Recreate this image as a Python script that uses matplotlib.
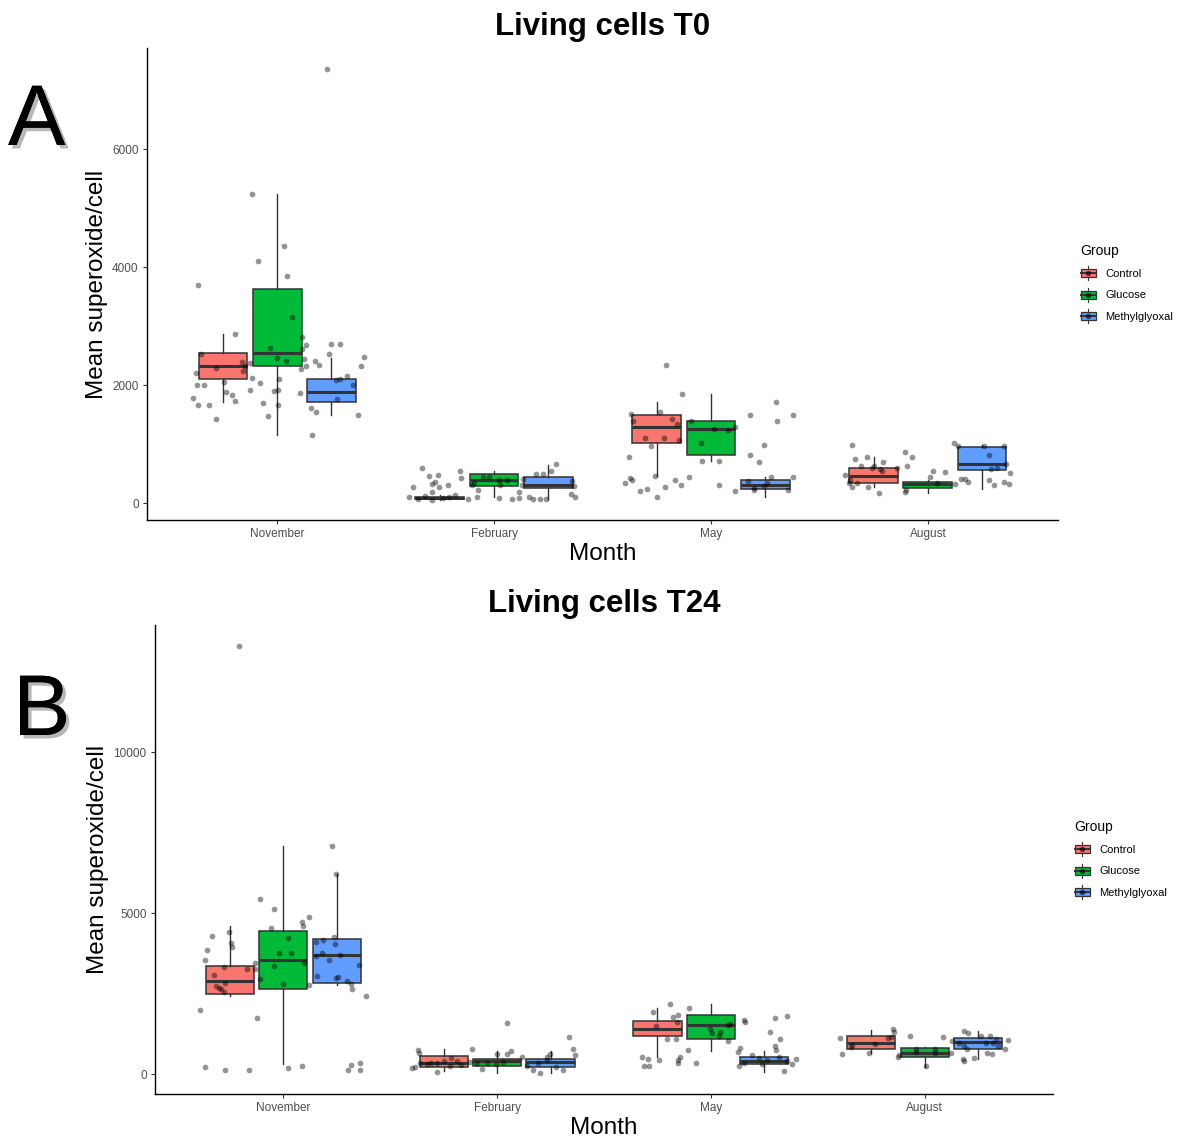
import matplotlib
matplotlib.use("Agg")
import matplotlib.pyplot as plt
import matplotlib.patheffects as pe
from matplotlib.legend_handler import HandlerBase
from matplotlib.patches import Rectangle, Patch
from matplotlib.lines import Line2D

plt.rcParams['font.family'] = ['Liberation Sans', 'DejaVu Sans']

# ---------------- data ----------------
months = ["November", "February", "May", "August"]
groups = ["Control", "Glucose", "Methylglyoxal"]
group_colors = ["#F8766D", "#00BA38", "#619CFF"]

# box statistics per month (rows) and group (cols): [whislo, q1, med, q3, whishi]
t0_boxes = [
    [[1707, 2097, 2322, 2537, 2865], [1153, 2327, 2537, 3633, 5232], [1492, 1717, 1881, 2107, 2452]],
    [[50, 70, 88, 105, 140], [97, 293, 385, 486, 542], [62, 260, 311, 446, 644]],
    [[458, 1012, 1288, 1486, 1707], [706, 819, 1260, 1395, 1842], [97, 232, 311, 390, 446]],
    [[277, 344, 458, 588, 780], [164, 260, 322, 361, 390], [232, 554, 656, 949, 978]],
]
t24_boxes = [
    [[2432, 2475, 2898, 3354, 4597], [301, 2631, 3551, 4451, 7082], [2755, 2826, 3707, 4183, 6202]],
    [[103, 228, 352, 559, 777], [41, 259, 404, 466, 714], [21, 207, 383, 466, 714]],
    [[538, 1180, 1388, 1636, 2040], [725, 1077, 1532, 1832, 2174], [72, 300, 414, 528, 725]],
    [[652, 766, 953, 1170, 1366], [228, 538, 662, 818, 849], [456, 766, 994, 1128, 1336]],
]

# jittered observations: horizontal jitter (category units) and value
t0_nov_jit = [0.23, -0.117, -0.089, 0.031, 0.046, -0.367, 0.069, -0.192, -0.35, -0.032, 0.0, 0.04, 0.114, 0.114,
              0.134, 0.246, 0.292, 0.24, 0.401, 0.386, 0.174, 0.192, 0.123, 0.135, 0.112, -0.163, -0.157, -0.28,
              -0.146, -0.124, -0.373, -0.37, -0.335, -0.243, -0.117, -0.08, 0.009, -0.126, -0.015, 0.006, 0.106,
              -0.238, -0.206, -0.195, -0.387, -0.367, -0.313, -0.063, 0.006, 0.155, 0.18, -0.282, -0.04, 0.372,
              0.163, 0.272, 0.292, 0.323, 0.35, 0.275]
t0_nov_val = [7351, 5238, 4097, 4351, 3853, 3695, 3148, 2870, 2531, 2627, 2458, 2412, 2819, 2615,
              2678, 2690, 2700, 2531, 2470, 2327, 2407, 2334, 2446, 2322, 2277, 2395, 2243, 2283,
              2322, 2368, 2198, 2005, 2005, 2056, 2124, 2029, 2102, 1921, 1893, 1921, 1859,
              1881, 1825, 1734, 1775, 1666, 1656, 1700, 1666, 1615, 1542, 1424, 1475, 1486,
              1153, 2090, 2107, 2153, 2005, 1768]
t0_feb_jit = [-0.332, -0.301, -0.258, -0.273, -0.284, -0.255, -0.212, -0.375, -0.286, -0.155, -0.152, -0.39,
              -0.349, -0.318, -0.284, -0.236, -0.206, -0.18, -0.118, -0.1, -0.092, -0.075, -0.08, -0.052, -0.022,
              0.021, 0.06, 0.028, 0.023, 0.083, 0.117, 0.115, 0.132, 0.13, 0.163, 0.181, 0.21, 0.238, 0.195,
              0.224, 0.264, 0.284, 0.358, 0.369, 0.353, 0.372]
t0_feb_val = [599, 452, 480, 361, 317, 277, 305, 271, 181, 548, 418, 102,
              68, 113, 51, 85, 102, 130, 73, 305, 334, 220, 102, 446, 446,
              385, 390, 305, 80, 73, 181, 85, 412, 305, 97, 73, 73, 73, 486,
              486, 548, 656, 378, 293, 153, 97]
t0_may_jit = [-0.206, -0.135, -0.235, -0.369, -0.358, -0.18, -0.157, -0.306, -0.217, -0.147, -0.275, -0.378,
              -0.091, 0.014, 0.08, 0.112, -0.046, -0.04, 0.037, -0.259, -0.373, -0.363, -0.395, -0.166, -0.1,
              -0.137, -0.213, -0.329, -0.294, -0.248, 0.037, 0.112, 0.181, 0.298, 0.304, 0.378, 0.245, 0.181,
              0.221, 0.276, 0.378, 0.171, 0.198, 0.198, 0.245, 0.257, 0.355]
t0_may_val = [2344, 1848, 1542, 1503, 1395, 1424, 1344, 1097, 1097, 1068, 966, 775,
              1385, 1254, 1237, 1288, 1012, 707, 707, 458, 429, 390, 344, 395, 436,
              300, 266, 203, 237, 102, 300, 203, 1486, 1707, 1390, 1486, 988, 819,
              695, 446, 446, 378, 254, 215, 293, 334, 220]
t0_aug_jit = [-0.35, -0.335, -0.281, -0.306, -0.247, -0.209, -0.219, -0.212, -0.256, -0.14, -0.106, -0.071,
              -0.094, -0.384, -0.358, -0.365, -0.352, -0.326, -0.278, -0.226, -0.1, -0.106, 0.024, 0.077, 0.012,
              0.04, 0.12, 0.137, 0.258, 0.353, 0.281, 0.362, 0.292, 0.317, 0.381, 0.151, 0.172, 0.186, 0.281,
              0.304, 0.353, 0.373, 0.124]
t0_aug_val = [983, 746, 785, 627, 627, 690, 571, 542, 599, 599, 870, 775,
              627, 469, 390, 344, 277, 334, 266, 164, 220, 181, 548, 525, 441,
              334, 1012, 961, 966, 966, 814, 656, 576, 593, 514, 412, 402, 356, 390,
              300, 361, 322, 317]

t24_nov_jit = [-0.209, 0.229, 0.246, -0.109, -0.042, 0.12, 0.086, 0.092, -0.059, -0.252, -0.333, 0.022, 0.238,
               0.188, 0.153, 0.244, -0.244, -0.238, -0.358, -0.019, 0.034, 0.181, 0.154, 0.266, 0.215, -0.368,
               -0.131, 0.095, 0.352, -0.277, -0.171, -0.131, -0.043, -0.324, 0.16, -0.111, -0.271, 0.246, 0.258,
               0.296, 0.315, 0.321, 0.0, 0.118, -0.313, -0.302, -0.293, -0.279, 0.386, -0.388, -0.123, -0.364,
               -0.271, -0.162, 0.022, 0.086, 0.316, 0.357, 0.305, 0.357]
t24_nov_val = [13294, 7091, 6202, 5436, 5125, 4876, 4711, 4597, 4545, 4420, 4286, 4224, 4245,
               4162, 4090, 4038, 4059, 3945, 3861, 3749, 3768, 3768, 3665, 3686, 3550, 3550,
               3457, 3457, 3395, 3323, 3252, 3261, 3345, 3084, 3053, 2941, 2826, 2972, 3013,
               2898, 2805, 2631, 2805, 2764, 2743, 2671, 2650, 2547, 2423, 1997, 1730, 208,
               124, 115, 177, 248, 289, 332, 115, 115]
t24_feb_jit = [0.045, -0.368, -0.363, -0.118, 0.0, 0.045, 0.064, 0.115, 0.335, 0.354, 0.366, 0.248, 0.232,
               -0.214, -0.249, -0.188, -0.36, -0.329, -0.308, -0.279, -0.22, -0.397, -0.383, -0.28, -0.092,
               -0.048, -0.005, 0.026, -0.07, -0.17, 0.139, 0.17, 0.199, 0.193, 0.232, 0.274, 0.307, -0.126]
t24_feb_val = [1594, 745, 662, 786, 621, 631, 724, 538, 1159, 777, 580, 611, 538,
               507, 404, 404, 332, 311, 352, 332, 248, 197, 228, 52, 332,
               352, 311, 373, 166, 280, 248, 124, 21, 332, 435, 208, 124, 383]
t24_may_jit = [-0.19, -0.104, -0.272, -0.176, -0.153, -0.257, -0.16, -0.206, -0.162, -0.109, -0.322, -0.293,
               -0.244, -0.313, -0.288, -0.153, -0.145, -0.153, -0.069, -0.005, 0.005, 0.042, 0.037, 0.081, 0.09,
               0.079, 0.154, 0.16, 0.126, 0.136, 0.131, 0.157, 0.19, 0.223, 0.241, 0.299, 0.354, 0.276, 0.322,
               0.299, 0.304, 0.317, 0.354, 0.396, 0.38, 0.343, 0.263]
t24_may_val = [2184, 2060, 1935, 1770, 1822, 1500, 1605, 1096, 1096, 736, 528, 466,
               425, 248, 248, 435, 538, 352, 332, 1388, 1264, 1305, 1180, 1532, 1553,
               1034, 1677, 1625, 693, 797, 248, 352, 590, 487, 311, 1739, 1791, 1305, 1077,
               870, 745, 538, 414, 476, 311, 83, 435]
t24_aug_jit = [-0.397, -0.386, -0.346, -0.338, -0.262, -0.234, -0.171, -0.16, -0.15, -0.142, -0.125, -0.12,
               -0.07, -0.042, -0.042, 0.006, 0.047, 0.047, 0.087, 0.123, 0.126, 0.185, 0.202, 0.162, 0.184,
               0.199, 0.179, 0.182, 0.23, 0.265, 0.307, 0.288, 0.319, 0.291, 0.314, 0.343, 0.388, 0.377, 0.332]
t24_aug_val = [1128, 621, 849, 890, 642, 922, 1109, 1159, 1388, 1305, 518, 580,
               1180, 767, 683, 258, 767, 662, 1159, 642, 1034, 1345, 1264, 953, 870,
               787, 476, 394, 508, 1180, 1180, 973, 953, 662, 631, 870, 1056, 787, 1087]

t0_yticks = [0, 2000, 4000, 6000]
t24_yticks = [0, 5000, 10000]

panels = [
    dict(title="Living cells T0", letter="A", boxes=t0_boxes,
         jit=[t0_nov_jit, t0_feb_jit, t0_may_jit, t0_aug_jit],
         val=[t0_nov_val, t0_feb_val, t0_may_val, t0_aug_val],
         yticks=t0_yticks, ylim=(-288, 7712),
         rect=[147 / 1181, 1 - 520 / 1142, 911 / 1181, 472 / 1142],
         legend_xy=(1070 / 1181, 1 - 234 / 1142), letter_xy=(8 / 1181, 1 - 145 / 1142)),
    dict(title="Living cells T24", letter="B", boxes=t24_boxes,
         jit=[t24_nov_jit, t24_feb_jit, t24_may_jit, t24_aug_jit],
         val=[t24_nov_val, t24_feb_val, t24_may_val, t24_aug_val],
         yticks=t24_yticks, ylim=(-621, 13946),
         rect=[155 / 1181, 1 - 1094 / 1142, 898 / 1181, 469 / 1142],
         legend_xy=(1064 / 1181, 1 - 810 / 1142), letter_xy=(13 / 1181, 1 - 735 / 1142)),
]


class HandlerBoxKey(HandlerBase):
    def create_artists(self, legend, orig_handle, xdescent, ydescent, width, height, fontsize, trans):
        fc = orig_handle.get_facecolor()
        cx = -xdescent + width / 2
        bw = width * 0.9
        bh = height * 0.62
        y0 = -ydescent + (height - bh) / 2
        rect = Rectangle((cx - bw / 2, y0), bw, bh, facecolor=fc, edgecolor="#333333", lw=0.9, transform=trans)
        vline = Line2D([cx, cx], [-ydescent - height * 0.05, -ydescent + height * 1.05], color="#333333",
                       lw=0.8, transform=trans)
        hline = Line2D([cx - bw / 2, cx + bw / 2], [y0 + bh / 2, y0 + bh / 2], color="#333333", lw=1.4,
                       transform=trans)
        dot = Line2D([cx], [y0 + bh / 2], marker="o", ms=3, color="black", alpha=0.5, ls="none", transform=trans)
        return [vline, rect, hline, dot]


fig = plt.figure(figsize=(11.81, 11.42), dpi=100)

for p in panels:
    ax = fig.add_axes(p["rect"])
    for mi in range(len(months)):
        for gi in range(len(groups)):
            lo, q1, med, q3, hi = p["boxes"][mi][gi]
            st = dict(whislo=lo, q1=q1, med=med, q3=q3, whishi=hi, fliers=[])
            pos = (mi + 1) + (gi - 1) * 0.25
            ax.bxp([st], positions=[pos], widths=0.225, patch_artist=True, showcaps=False, showfliers=False,
                   boxprops=dict(facecolor=group_colors[gi], edgecolor="#333333", linewidth=1.1),
                   whiskerprops=dict(color="#333333", linewidth=1.0),
                   medianprops=dict(color="#333333", linewidth=2.2), zorder=2)
        xs = [(mi + 1) + j for j in p["jit"][mi]]
        ax.scatter(xs, p["val"][mi], s=17, color="black", alpha=0.42, linewidths=0, zorder=3)

    ax.set_xlim(0.4, 4.6)
    ax.set_ylim(*p["ylim"])
    ax.set_xticks(range(1, len(months) + 1))
    ax.set_xticklabels(months)
    ax.set_yticks(p["yticks"])
    ax.set_yticklabels([str(v) for v in p["yticks"]])
    for s in ["top", "right"]:
        ax.spines[s].set_visible(False)
    for s in ["left", "bottom"]:
        ax.spines[s].set_linewidth(1.0)
        ax.spines[s].set_color("black")
    ax.tick_params(axis="both", length=3, width=0.8, color="#333333", labelsize=8.5, labelcolor="#4D4D4D", pad=3)
    ax.set_xlabel("Month", fontsize=17.5, labelpad=2)
    ax.set_ylabel("Mean superoxide/cell", fontsize=17.5, labelpad=3)
    ax.set_title(p["title"], fontsize=22.5, fontweight="bold", pad=9.5)

    handles = [Patch(facecolor=c, edgecolor="#333333", label=g) for g, c in zip(groups, group_colors)]
    fig.legend(handles=handles, labels=groups, title="Group", loc="upper left", bbox_to_anchor=p["legend_xy"],
               frameon=False, fontsize=8, title_fontsize=10, handler_map={Patch: HandlerBoxKey()},
               handlelength=1.5, handleheight=1.4, labelspacing=0.78, handletextpad=0.8, alignment="left")

    fig.text(p["letter_xy"][0], p["letter_xy"][1], p["letter"], fontsize=62, color="black",
             ha="left", va="baseline",
             path_effects=[pe.withSimplePatchShadow(offset=(2.5, -2.5), shadow_rgbFace="#888888", alpha=0.6),
                           pe.Normal()])

fig.savefig("out.png", dpi=100)
